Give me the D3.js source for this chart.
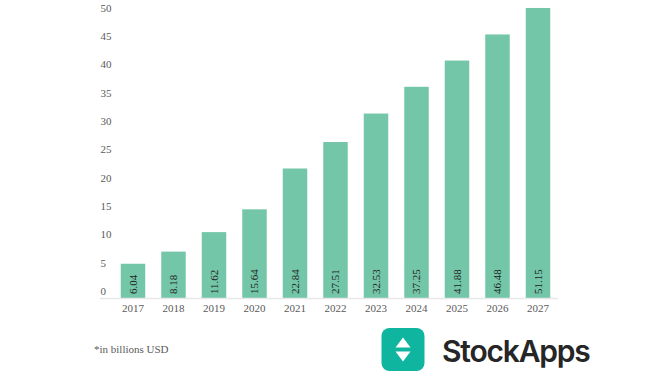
<!DOCTYPE html>
<html>
<head>
<meta charset="utf-8">
<script src="https://cdn.jsdelivr.net/npm/d3@7"></script>
<style>
  html, body { margin: 0; padding: 0; background: #fff; }
  svg { display: block; }
  text { font-family: "Liberation Serif", serif; }
</style>
</head>
<body>
<svg id="chart" width="660" height="371"></svg>
<script>
const years = [2017, 2018, 2019, 2020, 2021, 2022, 2023, 2024, 2025, 2026, 2027];
const values = [6.04, 8.18, 11.62, 15.64, 22.84, 27.51, 32.53, 37.25, 41.88, 46.48, 51.15];
const yTicks = [0, 5, 10, 15, 20, 25, 30, 35, 40, 45, 50];
const note = "*in billions USD";
const brand = "StockApps";

const svg = d3.select("#chart");
const baseline = 298;

const xscale = d3.scaleBand()
    .domain(years)
    .range([112.75, 558.25])
    .paddingInner(0.395)
    .paddingOuter(0.1975);

const yscale = d3.scaleLinear()
    .domain([0, 50])
    .range([baseline, baseline - 283.5]);

// bars
svg.append("g")
    .selectAll("rect")
    .data(values)
    .join("rect")
    .attr("x", (d, i) => xscale(years[i]))
    .attr("y", d => yscale(d))
    .attr("width", xscale.bandwidth())
    .attr("height", d => baseline - yscale(d))
    .attr("fill", "#73c6a8");

// baseline
svg.append("line")
    .attr("x1", 100).attr("x2", 558)
    .attr("y1", baseline + 0.5).attr("y2", baseline + 0.5)
    .attr("stroke", "#e8e8e8")
    .attr("stroke-width", 1.5);

// y axis, labels sit above their gridline position
const yaxis = svg.append("g")
    .attr("transform", "translate(100.5, -7)")
    .call(d3.axisLeft(yscale).tickValues(yTicks).tickSize(0).tickPadding(0));
yaxis.select(".domain").remove();
yaxis.selectAll("text")
    .attr("x", 0)
    .attr("text-anchor", "start")
    .attr("fill", "#5a5a5a")
    .style("font-family", "'Liberation Serif', serif")
    .style("font-size", "11px");

// x axis
const xaxis = svg.append("g")
    .attr("transform", `translate(0, ${baseline})`)
    .call(d3.axisBottom(xscale).tickSize(0).tickPadding(6));
xaxis.select(".domain").remove();
xaxis.selectAll("text")
    .attr("fill", "#5a5a5a")
    .style("font-family", "'Liberation Serif', serif")
    .style("font-size", "11px");

// value labels
svg.append("g")
    .selectAll("text")
    .data(values)
    .join("text")
    .attr("transform", (d, i) => `translate(${xscale(years[i]) + xscale.bandwidth() / 2 + 3.5}, 294) rotate(-90)`)
    .attr("fill", "#222")
    .style("font-size", "11px")
    .text(d => d.toFixed(2));

// footnote
svg.append("text")
    .attr("x", 94).attr("y", 353)
    .attr("fill", "#5a5a5a")
    .style("font-size", "11px")
    .text(note);

// logo
const logo = svg.append("g").attr("transform", "translate(403, 349.5)");
logo.append("rect")
    .attr("x", -21.5).attr("y", -21.5)
    .attr("width", 43).attr("height", 43)
    .attr("rx", 8)
    .attr("fill", "#10b5a0");
logo.append("path")
    .attr("d", d3.line()([[0, -12], [7.5, -2], [-7.5, -2], [0, -12]]))
    .attr("fill", "#fff");
logo.append("path")
    .attr("d", d3.line()([[0, 12], [7.5, 2], [-7.5, 2], [0, 12]]))
    .attr("fill", "#fff");

svg.append("text")
    .attr("x", 442).attr("y", 362)
    .attr("fill", "#262626")
    .style("font-family", "Inter, sans-serif")
    .style("font-weight", 600)
    .style("font-size", "30px")
    .style("letter-spacing", "-1.2px")
    .text(brand);
</script>
</body>
</html>
